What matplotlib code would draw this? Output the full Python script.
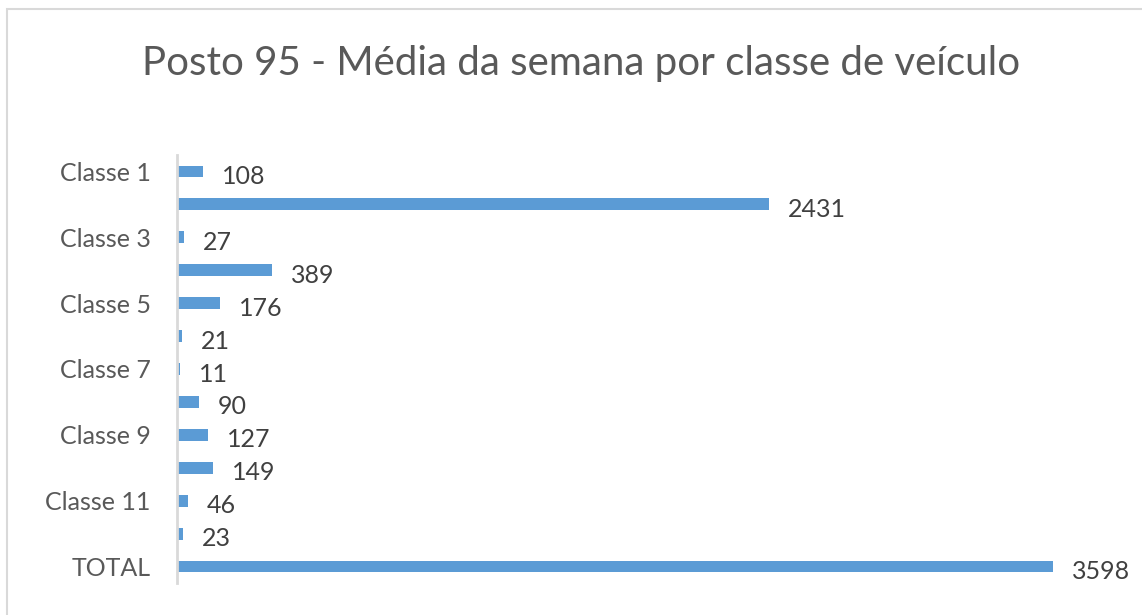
import matplotlib
matplotlib.use("Agg")
import matplotlib.pyplot as plt
from matplotlib.patches import Rectangle

# Average weekly traffic per vehicle class
categories = ["Classe 1", "Classe 2", "Classe 3", "Classe 4", "Classe 5", "Classe 6",
              "Classe 7", "Classe 8", "Classe 9", "Classe 10", "Classe 11", "Classe 12",
              "TOTAL"]
values = [108, 2431, 27, 389, 176, 21, 11, 90, 127, 149, 46, 23, 3598]
title = "Posto 95 - Média da semana por classe de veículo"

W, H = 1142, 615
fig = plt.figure(figsize=(W / 100, H / 100), dpi=100)
fig.patch.set_facecolor("white")

# chart-area border (only top and left edges fall inside the image)
fig.patches.append(Rectangle((7 / W, 0 - 0.05), 1.2, (H - 9) / H + 0.05,
                             transform=fig.transFigure, fill=False,
                             edgecolor="#d9d9d9", linewidth=1.5))

left, right, top, bottom = 177, 1100, 155, 583
ax = fig.add_axes([left / W, 1 - bottom / H, (right - left) / W, (bottom - top) / H])

pos = list(range(len(categories)))
ax.barh(pos, values, height=0.36, color="#5B9BD5")
ax.set_ylim(len(categories) - 0.5, -0.5)
ax.set_xlim(0, 3598 * (right - left) / (1053 - left))

font = "Lato"
for p, v in zip(pos, values):
    ax.annotate(f"{v}", xy=(v, p), xytext=(19, -5), textcoords="offset pixels",
                ha="left", va="center", fontsize=18, color="#404040", family=font)

shown = [i for i in pos if i % 2 == 0]
ax.set_yticks(shown)
ax.set_yticklabels([categories[i] for i in shown], fontsize=18, color="#595959",
                   family=font)
ax.tick_params(axis="y", length=0, pad=19)
ax.set_xticks([])
for s in ("top", "right", "bottom"):
    ax.spines[s].set_visible(False)
ax.spines["left"].set_color("#d9d9d9")
ax.spines["left"].set_linewidth(2)

fig.text(581 / W, 1 - 63 / H, title, ha="center", va="center", fontsize=29,
         color="#595959", family=font)

fig.savefig("out.png", dpi=100, facecolor="white")
